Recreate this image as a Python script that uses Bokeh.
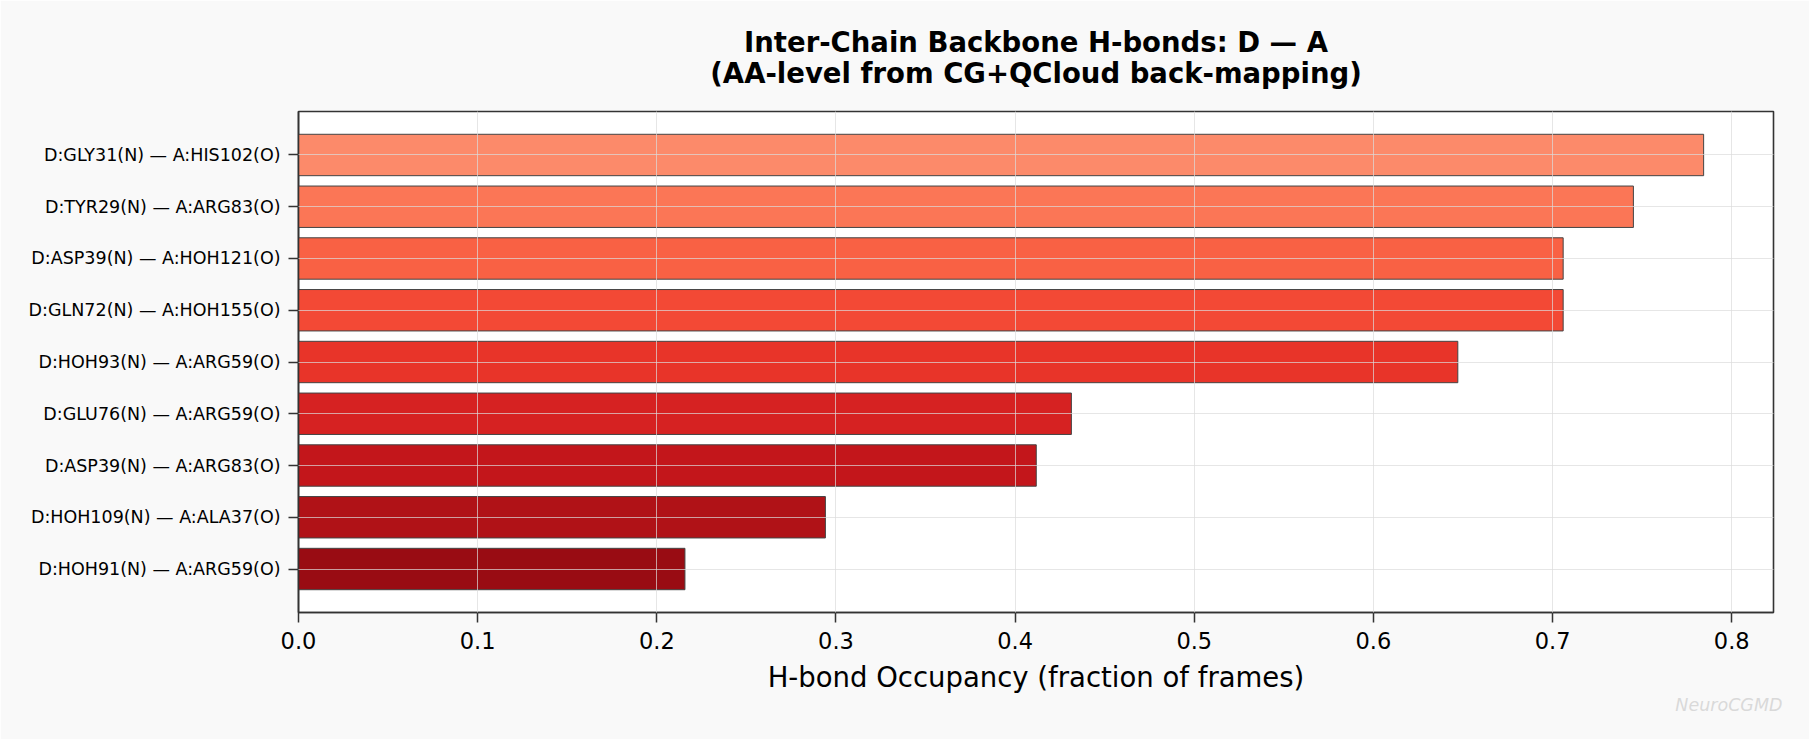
from bokeh.plotting import figure
from bokeh.models import FactorRange, Range1d, Title, FixedTicker, PrintfTickFormatter, ColumnDataSource
from bokeh.embed import file_html
from bokeh.resources import INLINE

# Data (top to bottom as displayed)
bond_labels = [
    "D:GLY31(N) — A:HIS102(O)",
    "D:TYR29(N) — A:ARG83(O)",
    "D:ASP39(N) — A:HOH121(O)",
    "D:GLN72(N) — A:HOH155(O)",
    "D:HOH93(N) — A:ARG59(O)",
    "D:GLU76(N) — A:ARG59(O)",
    "D:ASP39(N) — A:ARG83(O)",
    "D:HOH109(N) — A:ALA37(O)",
    "D:HOH91(N) — A:ARG59(O)",
]
occupancy = [0.7843, 0.7451, 0.7059, 0.7059, 0.6471, 0.4314, 0.4118, 0.2941, 0.2157]
bar_colors = ["#fc8a6a", "#fb7656", "#f96144", "#f34935", "#e83429",
              "#d62222", "#c3161b", "#b01217", "#990c13"]
x_ticks = [0.0, 0.1, 0.2, 0.3, 0.4, 0.5, 0.6, 0.7, 0.8]
title_lines = ["Inter-Chain Backbone H-bonds: D — A", "(AA-level from CG+QCloud back-mapping)"]

FONT = "DejaVu Sans"

src = ColumnDataSource(dict(label=bond_labels, occ=occupancy, color=bar_colors))

p = figure(
    width=1809, height=739,
    y_range=FactorRange(factors=bond_labels[::-1], range_padding=0.0756, range_padding_units="percent"),
    x_range=Range1d(0, 0.8233),
    output_backend="svg", toolbar_location=None, title=None,
    min_border_left=298, min_border_right=36, min_border_top=111, min_border_bottom=127,
)
p.background_fill_color = "white"
p.border_fill_color = "#f9f9f9"
p.outline_line_color = "#333333"
p.outline_line_width = 1.6

p.hbar(y="label", right="occ", left=0, height=0.8, source=src,
       fill_color="color", line_color="#444444", line_width=1)

# grid on top of the bars
for g in (p.xgrid, p.ygrid):
    g.grid_line_color = "#dcdcdc"
    g.grid_line_alpha = 0.7
    g.grid_line_width = 1
    g.level = "annotation"

p.xaxis.ticker = FixedTicker(ticks=x_ticks)
p.xaxis.formatter = PrintfTickFormatter(format="%.1f")
p.xaxis.axis_label = "H-bond Occupancy (fraction of frames)"
p.xaxis.axis_label_text_font = FONT
p.xaxis.axis_label_text_font_size = "27.5px"
p.xaxis.axis_label_text_font_style = "normal"
p.xaxis.axis_label_text_color = "black"
p.xaxis.axis_label_standoff = 9
p.xaxis.major_label_text_font_size = "22.5px"
p.xaxis.major_label_standoff = 9

p.yaxis.major_label_text_font_size = "17.5px"
p.yaxis.major_label_standoff = 8

for ax in (p.xaxis, p.yaxis):
    ax.major_label_text_font = FONT
    ax.major_label_text_color = "black"
    ax.major_tick_out = 10
    ax.major_tick_in = 0
    ax.minor_tick_out = 0
    ax.minor_tick_in = 0
    ax.major_tick_line_color = "#333333"
    ax.major_tick_line_width = 1.5
    ax.axis_line_color = "#333333"
    ax.axis_line_width = 1.6

title_style = dict(align="center", text_font=FONT, text_font_size="27.5px",
                   text_font_style="bold", text_color="black")
if "text_align" in Title.properties():
    t = Title(text="\n".join(title_lines), text_line_height=0.98, standoff=44, **title_style)
    t.text_align = "center"
    p.add_layout(t, "above")
else:
    p.add_layout(Title(text=title_lines[1], standoff=52, **title_style), "above")
    p.add_layout(Title(text=title_lines[0], standoff=0, **title_style), "above")

wm = Title(text="NeuroCGMD", align="right", offset=-9, text_font=FONT, text_font_size="17.5px",
           text_font_style="italic", text_color="#d9d9d9", standoff=0)
try:
    wm.standoff = -5
except Exception:
    pass
p.add_layout(wm, "below")

open("out.html", "w").write(file_html(p, INLINE))
